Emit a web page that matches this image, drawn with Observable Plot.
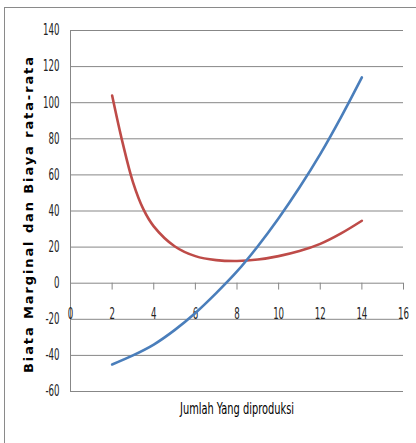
<!DOCTYPE html>
<html>
<head>
<meta charset="utf-8">
<script src="https://cdn.jsdelivr.net/npm/d3@7"></script>
<script src="https://cdn.jsdelivr.net/npm/@observablehq/plot@0.6"></script>
<style>
  html, body { margin: 0; padding: 0; background: #fff; }
  #wrap { position: relative; width: 416px; height: 443px; overflow: hidden; }
  #border { position: absolute; left: 4px; top: 7px; right: 0; bottom: 0;
            border-top: 1px solid #8a8a8a; border-left: 1px solid #8a8a8a; pointer-events: none; }
  #chart { position: absolute; left: 0; top: 0; }
</style>
</head>
<body>
<div id="wrap"><div id="chart"></div><div id="border"></div></div>
<script>
// Tick labels
const xTicks = [0, 2, 4, 6, 8, 10, 12, 14, 16];
const yTicks = [-60, -40, -20, 0, 20, 40, 60, 80, 100, 120, 140];

// Biaya marginal (blue)
const mcQty = [2, 3, 4, 5, 6, 7, 8, 9, 10, 11, 12, 13, 14];
const mcCost = [-45, -40, -34, -26, -16.5, -5.5, 6.5, 20.5, 36, 53, 71.5, 92, 114];

// Biaya rata-rata (red)
const acQty = [2, 2.5, 3, 3.5, 4, 5, 6, 7, 8, 9, 10, 11, 12, 13, 14];
const acCost = [104, 78, 56, 41, 31.5, 20.5, 15, 12.8, 12.3, 13.1, 15, 17.8, 21.8, 27.6, 34.6];

const yTitle = "Biata Marginal dan Biaya rata-rata";
const xTitle = "Jumlah Yang diproduksi";

const mc = mcQty.map((q, i) => ({q, v: mcCost[i]}));
const ac = acQty.map((q, i) => ({q, v: acCost[i]}));

const narrow = "'Liberation Sans Narrow', 'DejaVu Sans Condensed', 'DejaVu Sans', sans-serif";
const grid = "#878787";

const chart = Plot.plot({
  width: 416,
  height: 443,
  marginLeft: 70,
  marginRight: 13,
  marginTop: 30,
  marginBottom: 52,
  x: {domain: [0, 16], axis: null},
  y: {domain: [-60, 140], axis: null},
  style: {background: "transparent", overflow: "visible"},
  marks: [
    Plot.ruleY(yTicks, {y: d => d, stroke: grid, strokeWidth: 1}),
    Plot.ruleX([0], {x: d => d, stroke: grid, strokeWidth: 1}),
    Plot.ruleX(xTicks, {x: d => d, y1: 0, y2: -3.8, stroke: grid, strokeWidth: 1}),
    Plot.text(yTicks, {x: 0, y: d => d, text: d => String(d), textAnchor: "end", dx: -11,
      fontSize: 15, fontFamily: narrow, fill: "#222", className: "tick-lbl"}),
    Plot.text(xTicks, {x: d => d, y: 0, text: d => String(d), dy: 31, textAnchor: "middle",
      fontSize: 15, fontFamily: narrow, fill: "#222", className: "tick-lbl"}),
    Plot.line(ac, {x: "q", y: "v", stroke: "#be4b48", strokeWidth: 2.6, curve: "catmull-rom"}),
    Plot.line(mc, {x: "q", y: "v", stroke: "#4a7ebb", strokeWidth: 2.6, curve: "catmull-rom"}),
    Plot.text([yTitle], {frameAnchor: "left", dx: -42, dy: 4, rotate: -90, text: d => d,
      textAnchor: "middle", lineAnchor: "middle", fontSize: 13, fontWeight: "bold",
      fontFamily: "'DejaVu Sans', Verdana, sans-serif", fill: "#000", className: "y-title"}),
    Plot.text([xTitle], {frameAnchor: "bottom", dy: 17, text: d => d,
      textAnchor: "middle", lineAnchor: "middle", fontSize: 16,
      fontFamily: narrow, fill: "#000", className: "x-title"})
  ]
});
document.getElementById("chart").appendChild(chart);

// condense label glyphs to mimic the narrow face of the original
chart.querySelectorAll("g.tick-lbl text").forEach(t => {
  const w = t.getComputedTextLength();
  t.setAttribute("textLength", (w * 0.64).toFixed(1));
  t.setAttribute("lengthAdjust", "spacingAndGlyphs");
});
chart.querySelectorAll("g.x-title text").forEach(t => {
  t.setAttribute("textLength", "114");
  t.setAttribute("lengthAdjust", "spacingAndGlyphs");
});
chart.querySelectorAll("g.y-title text").forEach(t => {
  t.setAttribute("textLength", "316");
  t.setAttribute("lengthAdjust", "spacing");
});
</script>
</body>
</html>
